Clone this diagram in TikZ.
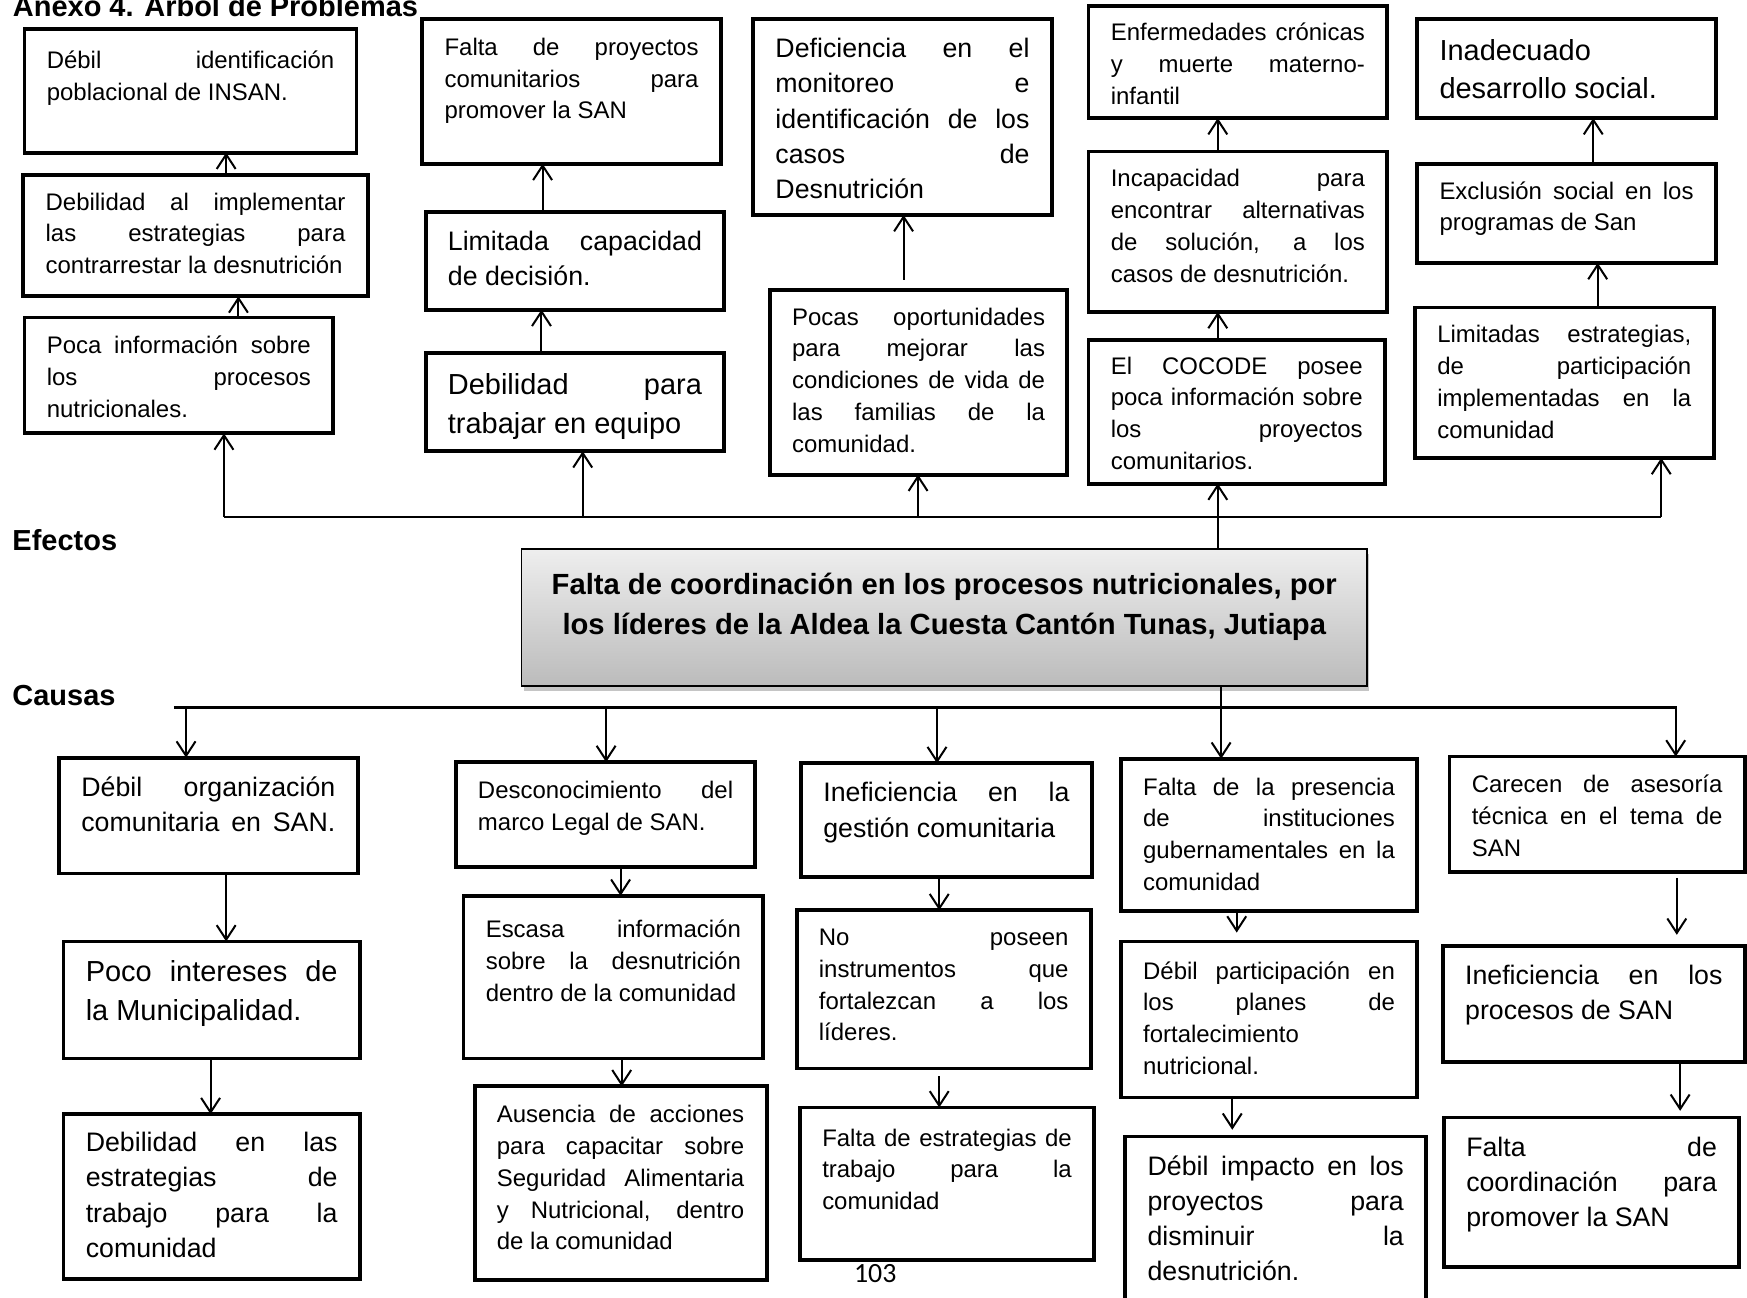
\documentclass[tikz,border=0pt]{standalone}
\usepackage{fontspec}
\setmainfont{Liberation Sans}
\newfontfamily\calib{Carlito}
\usetikzlibrary{arrows.meta,shadows}
\definecolor{gtop}{HTML}{EEEEEE}
\definecolor{gbot}{HTML}{BBBBBB}
\hbadness=10000 \hfuzz=6pt \vbadness=10000
\newcommand{\J}[1]{\hbox to\hsize{#1}}
\newcommand{\Lf}[1]{\hbox{#1}}
\newcommand{\fa}{\fontsize{21.5}{28.5}\selectfont}
\newcommand{\fb}{\fontsize{24}{31.7}\selectfont}
\newcommand{\fc}{\fontsize{26}{34.5}\selectfont}
\tikzset{
  bx/.style={draw=black, line width=3.5pt, inner sep=0pt, outer sep=0pt, anchor=north west},
  tx/.style={anchor=base west, inner sep=0pt, outer sep=0pt},
  ar/.style={line width=1.8pt, -{Straight Barb[length=13pt,width=17pt,line width=1.8pt]}},
  ln/.style={line width=1.6pt},
  hd/.style={anchor=base west, inner sep=0pt, font=\bfseries\fontsize{26}{30}\selectfont},
  cp/.style={draw=black, line width=1.6pt, inner sep=0pt, outer sep=0pt, anchor=north west,
    top color=gtop, bottom color=gbot,
    drop shadow={shadow xshift=2pt, shadow yshift=-4pt, opacity=0.45}},
}
\newcommand{\BX}[8]{%
  \node[bx, minimum width={(#4-#2)*1pt}, minimum height={(#5-#3)*1pt}] (#1) at (#2,#3) {};
  \node[tx] (#1t) at (#2+20,#7) {\parbox[t]{\dimexpr #4pt-#2pt-40pt\relax}{#6#8}};
}
\begin{document}
\begin{tikzpicture}[x=1pt, y=-1pt]
\useasboundingbox (0,0) rectangle (1568,1165);
\clip (0,0) rectangle (1568,1165);
\fill[white] (0,0) rectangle (1568,1165);

% headings
\node[hd] (tit) at (11.4,14.4) {Anexo 4. Árbol de Problemas};
\node[hd] (efe) at (11,494) {Efectos};
\node[hd] (cau) at (11,633) {Causas};

% effects
\BX{B1}{22}{26}{320}{137}{\fa}{61.5}{\J{Débil identificación}\Lf{poblacional de INSAN.}}
\BX{B2}{21}{157}{330}{266}{\fa}{188.5}{\J{Debilidad al implementar}\J{las estrategias para}\Lf{contrarrestar la desnutrición}}
\BX{B3}{22}{285}{299}{389}{\fa}{317.7}{\J{Poca información sobre}\J{los procesos}\Lf{nutricionales.}}
\BX{C1}{379}{17}{647}{147}{\fa}{49.7}{\J{Falta de proyectos}\J{comunitarios para}\Lf{promover la SAN}}
\BX{C2}{382}{190}{650}{278}{\fb}{224.6}{\J{Limitada capacidad}\Lf{de decisión.}}
\BX{C3}{382}{317}{650}{405}{\fc}{354.3}{\J{Debilidad para}\Lf{trabajar en equipo}}
\BX{D1}{676}{17}{944}{193}{\fb}{51.6}{\J{Deficiencia en el}\J{monitoreo e}\J{identificación de los}\J{casos de}\Lf{Desnutrición}}
\BX{D2}{691}{260}{958}{426}{\fa}{291.7}{\J{Pocas oportunidades}\J{para mejorar las}\J{condiciones de vida de}\J{las familias de la}\Lf{comunidad.}}
\BX{E1}{977}{5}{1245}{106}{\fa}{36.7}{\J{Enfermedades crónicas}\J{y muerte materno-}\Lf{infantil}}
\BX{E2}{977}{136}{1245}{280}{\fa}{167.7}{\J{Incapacidad para}\J{encontrar alternativas}\J{de solución, a los}\Lf{casos de desnutrición.}}
\BX{E3}{977}{305}{1243}{434}{\fa}{335.7}{\J{El COCODE posee}\J{poca información sobre}\J{los proyectos}\Lf{comunitarios.}}
\BX{F1}{1272}{17}{1540}{106}{\fc}{54.3}{\Lf{Inadecuado}\Lf{desarrollo social.}}
\BX{F2}{1272}{147}{1540}{236}{\fa}{178.7}{\J{Exclusión social en los}\Lf{programas de San}}
\BX{F3}{1270}{276}{1538}{411}{\fa}{307.7}{\J{Limitadas estrategias,}\J{de participación}\J{implementadas en la}\Lf{comunidad}}

% central problem
\node[cp, minimum width=759pt, minimum height=123pt] (CP) at (468,493) {};
\node[anchor=base, inner sep=0pt] (CPt) at (847.5,533.4)
  {\parbox[t]{745pt}{\centering\bfseries\fontsize{26.2}{36}\selectfont
   Falta de coordinación en los procesos nutricionales, por\\
   los líderes de la Aldea la Cuesta Cantón Tunas, Jutiapa}};

% causes
\BX{G1}{53}{680}{321}{784}{\fb}{714.6}{\J{Débil organización}\J{comunitaria en SAN.}}
\BX{G2}{57}{845}{323}{950}{\fc}{881.3}{\J{Poco intereses de}\Lf{la Municipalidad.}}
\BX{G3}{57}{1000}{323}{1148}{\fb}{1033.6}{\J{Debilidad en las}\J{estrategias de}\J{trabajo para la}\Lf{comunidad}}
\BX{H1}{409}{684}{678}{778}{\fa}{716.7}{\J{Desconocimiento del}\Lf{marco Legal de SAN.}}
\BX{H2}{416}{804}{685}{950}{\fa}{841.7}{\J{Escasa información}\J{sobre la desnutrición}\Lf{dentro de la comunidad}}
\BX{H3}{426}{975}{688}{1149}{\fa}{1007.7}{\J{Ausencia de acciones}\J{para capacitar sobre}\J{Seguridad Alimentaria}\J{y Nutricional, dentro}\Lf{de la comunidad}}
\BX{I1}{719}{685}{980}{787}{\fb}{719.6}{\J{Ineficiencia en la}\Lf{gestión comunitaria}}
\BX{I2}{715}{817}{979}{959}{\fa}{848.7}{\J{No poseen}\J{instrumentos que}\J{fortalezcan a los}\Lf{líderes.}}
\BX{I3}{718}{994}{982}{1131}{\fa}{1028.7}{\J{Falta de estrategias de}\J{trabajo para la}\Lf{comunidad}}
\BX{J1}{1006}{681}{1272}{818}{\fa}{713.7}{\J{Falta de la presencia}\J{de instituciones}\J{gubernamentales en la}\Lf{comunidad}}
\BX{J2}{1006}{845}{1272}{985}{\fa}{878.7}{\J{Débil participación en}\J{los planes de}\Lf{fortalecimiento}\Lf{nutricional.}}
\BX{J3}{1010}{1020}{1280}{1180}{\fb}{1054.6}{\J{Débil impacto en los}\J{proyectos para}\J{disminuir la}\Lf{desnutrición.}}
\BX{K1}{1301}{679}{1566}{783}{\fa}{711.7}{\J{Carecen de asesoría}\J{técnica en el tema de}\Lf{SAN}}
\BX{K2}{1295}{849}{1566}{953}{\fb}{883.6}{\J{Ineficiencia en los}\Lf{procesos de SAN}}
\BX{K3}{1296}{1003}{1561}{1137}{\fb}{1037.6}{\J{Falta de}\J{coordinación para}\Lf{promover la SAN}}

\node[anchor=base, inner sep=0pt, font=\calib\fontsize{25}{30}\selectfont] (pg) at (785.5,1151) {103};

% effects connectors
\coordinate (eL) at (201,464);
\coordinate (eR) at (1491,464);
\coordinate (e2) at (523,464);
\coordinate (e3) at (824,464);
\draw[ln] (eL) -- (eR);
\draw[ar] (eL) -- (eL |- B3.south);
\draw[ar] (214,0 |- B3.north) -- (214,0 |- B2.south);
\draw[ar] (203,0 |- B2.north) -- (203,0 |- B1.south);
\draw[ar] (e2) -- (e2 |- C3.south);
\draw[ar] (486,0 |- C3.north) -- (486,0 |- C2.south);
\draw[ar] (487,0 |- C2.north) -- (487,0 |- C1.south);
\draw[ar] (e3) -- (e3 |- D2.south);
\draw[ar, shorten <=9pt] (811,0 |- D2.north) -- (811,0 |- D1.south);
\draw[ar] (1093,0 |- CP.north) -- (1093,0 |- E3.south);
\draw[ar] (1093,0 |- E3.north) -- (1093,0 |- E2.south);
\draw[ar] (1093,0 |- E2.north) -- (1093,0 |- E1.south);
\draw[ar] (eR) -- (eR |- F3.south);
\draw[ar] (1434,0 |- F3.north) -- (1434,0 |- F2.south);
\draw[ar] (1430,0 |- F2.north) -- (1430,0 |- F1.south);

% causes connectors
\coordinate (cL) at (156,635);
\coordinate (cR) at (1504,635);
\coordinate (c1) at (167,635);
\coordinate (c2) at (544,635);
\coordinate (c3) at (841,635);
\draw[ar] (cL) -- (cR) -- (cR |- K1.north);
\draw[ar] (c1) -- (c1 |- G1.north);
\draw[ar] (203,0 |- G1.south) -- (203,0 |- G2.north);
\draw[ar] (189,0 |- G2.south) -- (189,0 |- G3.north);
\draw[ar] (c2) -- (c2 |- H1.north);
\draw[ar] (557,0 |- H1.south) -- (557,0 |- H2.north);
\draw[ar] (558,0 |- H2.south) -- (558,0 |- H3.north);
\draw[ar] (c3) -- (c3 |- I1.north);
\draw[ar] (843,0 |- I1.south) -- (843,0 |- I2.north);
\draw[ar, shorten <=7pt] (843,0 |- I2.south) -- (843,0 |- I3.north);
\draw[ar] (1096,0 |- CP.south) -- (1096,0 |- J1.north);
\draw[ar, shorten >=8pt] (1110,0 |- J1.south) -- (1110,0 |- J2.north);
\draw[ar, shorten >=6pt] (1106,0 |- J2.south) -- (1106,0 |- J3.north);
\draw[ar, shorten <=5pt, shorten >=10pt] (1505,0 |- K1.south) -- (1505,0 |- K2.north);
\draw[ar, shorten >=6pt] (1508,0 |- K2.south) -- (1508,0 |- K3.north);
\end{tikzpicture}
\end{document}
